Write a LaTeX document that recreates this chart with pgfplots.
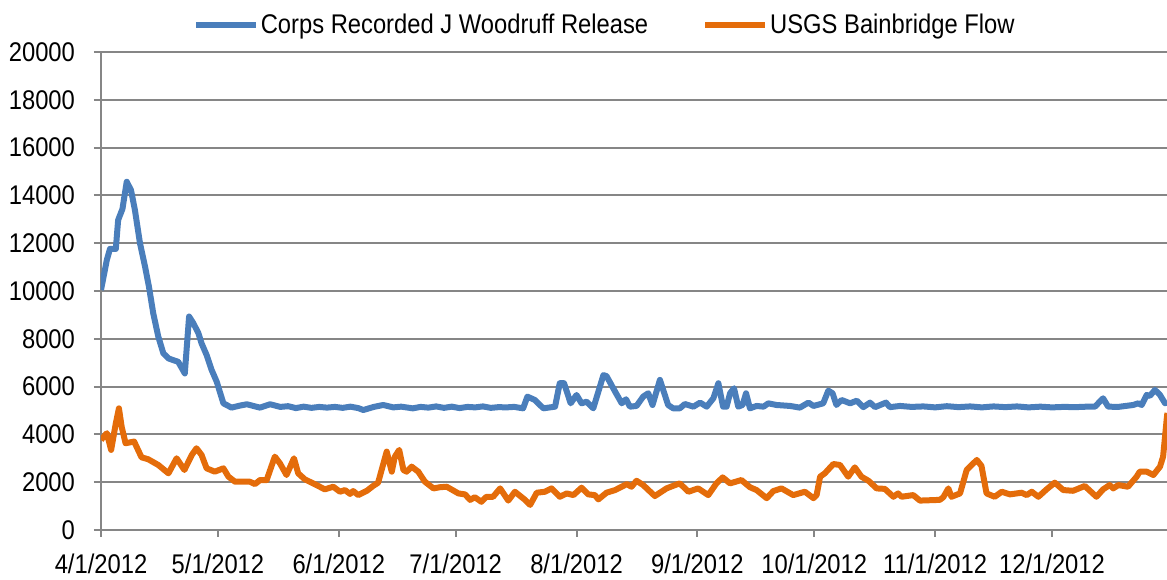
\documentclass[border=0pt]{standalone}
\usepackage{fontspec}
\setmainfont{Liberation Sans}[FakeStretch=0.88]
\usepackage{pgfplots}
\pgfplotsset{compat=1.18}
\definecolor{cblue}{RGB}{74,126,187}
\definecolor{corange}{RGB}{228,108,10}
\definecolor{gridgray}{RGB}{134,134,134}
\begin{document}
\begin{tikzpicture}[font=\fontsize{13.5pt}{16pt}\selectfont]
\begin{axis}[
  scale only axis,
  width=533pt, height=239pt,
  xmin=0, xmax=273.5, ymin=0, ymax=20000,
  axis x line=bottom, axis y line=left,
  axis line style={draw=gridgray, line width=1pt, -},
  xtick={0,30,61,91,122,153,183,214,244},
  xticklabels={4/1/2012,5/1/2012,6/1/2012,7/1/2012,8/1/2012,9/1/2012,10/1/2012,11/1/2012,12/1/2012},
  ytick={0,2000,...,20000},
  scaled y ticks=false,
  /pgf/number format/1000 sep={},
  /pgf/number format/assume math mode=true,
  tick align=outside,
  major tick length=3.5pt,
  tick style={draw=gridgray, line width=1pt},
  ymajorgrids,
  grid style={draw=gridgray, line width=1pt},
  xticklabel style={yshift=-5pt},
  yticklabel style={xshift=-6pt},
  legend columns=2,
  legend style={draw=none, fill=none, at={(0.4725,1.0565)}, anchor=center, inner sep=0pt,
    nodes={inner xsep=1pt},
    /tikz/every even column/.append style={column sep=26pt}},
  legend cell align=left,
  legend image code/.code={\draw[#1, line width=3pt] (0pt,0pt) -- (30pt,0pt);},
]
\path (rel axis cs:0,0) coordinate (sw) (rel axis cs:1,1) coordinate (ne);
\addplot[cblue, line width=3pt, line join=round, no markers] coordinates {
(0,10040)(1.5,11300)(2.3,11760)(3.8,11760)(4.4,12970)(5.5,13430)(6.6,14570)(7.7,14220)
(8.7,13390)(10,12000)(11.3,11020)(12.3,10180)(13.4,9070)(14.7,8090)(16,7390)(17.3,7180)
(19,7080)(19.8,7040)(21.5,6550)(22.6,8930)(23.7,8650)(25,8230)(25.8,7810)(27.1,7320)
(28.4,6690)(29.7,6200)(31.4,5300)(33.5,5120)(35.5,5200)(37.4,5260)(40.8,5120)(43.4,5260)
(46,5150)(48,5180)(50,5100)(52,5160)(54,5110)(56,5150)(58,5120)(60,5150)(62,5110)(64,5160)
(66,5100)(67.3,5020)(70,5150)(72.4,5230)(75,5130)(77,5160)(80,5090)(82,5150)(84,5120)
(86,5170)(88,5110)(90,5160)(92,5100)(94,5150)(96,5130)(98,5170)(100,5110)(102,5140)
(104,5130)(106,5150)(108.3,5090)(109.4,5580)(111.3,5440)(113.5,5090)(116.5,5160)
(117.7,6140)(118.8,6140)(120.5,5300)(122,5650)(123.3,5300)(124.6,5370)(126.3,5090)
(128.9,6480)(129.7,6440)(131.9,5790)(133.6,5300)(134.7,5470)(135.7,5160)(137.4,5190)
(139.1,5580)(140.4,5720)(141.5,5230)(143.4,6280)(145.5,5230)(146.8,5090)(148.5,5090)
(149.8,5270)(152,5160)(153.7,5330)(155.4,5160)(157.1,5510)(158.4,6140)(159.6,5160)
(160.5,5160)(161.4,5720)(162.4,5930)(163.5,5160)(164.6,5230)(165.5,5720)(166.5,5090)
(168.2,5190)(170,5160)(171.2,5300)(173.3,5230)(176.8,5190)(179.3,5120)(181.5,5330)
(182.8,5190)(185.3,5300)(186.6,5830)(187.7,5720)(188.7,5230)(190,5440)(192.2,5300)
(193.9,5410)(195.6,5140)(197.3,5330)(198.6,5140)(201.4,5330)(202.4,5140)(205,5190)
(208,5150)(211,5170)(214,5130)(217,5180)(220,5140)(223,5170)(226,5130)(229,5170)
(232,5140)(235,5170)(238,5130)(241,5160)(244,5130)(247,5150)(250,5140)(253,5160)
(255,5160)(257.1,5510)(258.4,5160)(261,5150)(264.8,5230)(266.1,5300)(267,5230)
(268.3,5650)(269.1,5610)(270.4,5860)(271.7,5650)(273,5300)(273.5,5350)
};
\addlegendentry{Corps Recorded J Woodruff Release}
\addplot[corange, line width=3pt, line join=round, no markers] coordinates {
(0,3770)(1.5,4050)(2.6,3350)(3.8,4460)(4.6,5090)(5.3,4320)(6.3,3630)(8.5,3700)(10.4,3040)
(12.1,2960)(14.7,2720)(17.3,2370)(19.4,3000)(21.4,2510)(23.3,3140)(24.5,3420)(25.8,3140)
(27.1,2580)(29.2,2440)(31.4,2580)(32.7,2230)(34.4,2020)(38.2,2020)(39.5,1920)(40.8,2090)
(42.5,2090)(44.6,3070)(45.9,2790)(47.6,2300)(49.5,3000)(50.6,2370)(52.3,2120)(55.3,1880)
(57.4,1700)(59.6,1810)(61.3,1600)(62.6,1670)(63.9,1510)(64.7,1630)(66,1460)(68.2,1640)
(69.8,1840)(71.1,1980)(73.3,3280)(74.6,2440)(75.4,3070)(76.5,3350)(77.6,2510)(78.4,2440)
(79.7,2650)(81.4,2440)(83.1,2020)(85.3,1740)(87,1790)(88.7,1810)(91.7,1530)(93.4,1490)
(94.7,1260)(95.9,1370)(97.6,1180)(98.9,1390)(100.6,1390)(102.4,1740)(104.5,1230)
(106.2,1600)(108.8,1260)(110.1,1050)(111.8,1560)(113.9,1600)(115.6,1740)(117.7,1390)
(119.5,1530)(121.2,1460)(123.3,1770)(125,1490)(126.7,1460)(127.6,1280)(129.7,1560)
(131.9,1670)(134.9,1920)(136.1,1810)(137.4,2060)(139.1,1880)(142.1,1420)(145.1,1740)
(147.3,1880)(148.5,1950)(150.7,1600)(153.2,1740)(155.8,1460)(157.9,1950)(159.5,2200)
(161.4,1950)(164.3,2090)(166.5,1790)(168.2,1670)(170.8,1330)(172.5,1630)(174.6,1740)
(177.6,1460)(180.6,1600)(182.8,1330)(183.6,1460)(184.5,2230)(185.7,2370)(187.9,2760)
(189.6,2720)(191.7,2230)(193.4,2620)(195.1,2230)(196.9,2060)(199,1740)(201.1,1720)
(203.3,1390)(204.5,1530)(205.4,1390)(208.4,1460)(210.1,1230)(215.2,1260)(216.1,1370)
(217.4,1740)(218.2,1390)(220.4,1530)(222.1,2510)(224.7,2930)(225.9,2680)(227.2,1530)
(229.3,1390)(231.1,1600)(233.2,1490)(236.2,1560)(237.5,1460)(238.8,1600)(240.5,1390)
(242.6,1700)(244.7,1980)(246.9,1670)(249.4,1640)(252.4,1840)(255.4,1390)(257.1,1700)
(258.8,1880)(259.7,1740)(261,1880)(263.5,1810)(265.7,2230)(266.5,2440)(268.3,2440)
(270,2300)(271.7,2650)(272.5,3070)(273.4,4600)(273.6,4900)
};
\addlegendentry{USGS Bainbridge Flow}
\end{axis}
\pgfresetboundingbox
\useasboundingbox ([xshift=-50.5pt,yshift=-25pt]sw) rectangle ([yshift=26pt]ne);
\end{tikzpicture}
\end{document}
